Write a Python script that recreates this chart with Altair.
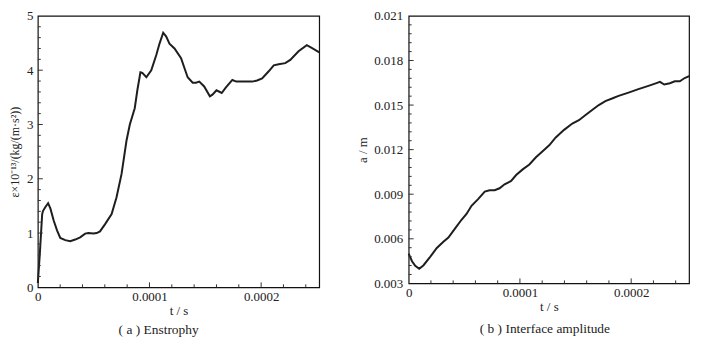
import altair as alt
import pandas as pd

FONT = "Liberation Serif"
INK = "#1e1e1e"

# ---------- panel (a): enstrophy ----------
t_a = [0.0, 0.018, 0.039, 0.047, 0.068, 0.092, 0.113, 0.142, 0.172, 0.201,
       0.246, 0.290, 0.335, 0.379, 0.424, 0.453, 0.498, 0.527, 0.557, 0.601,
       0.661, 0.705, 0.750, 0.794, 0.824, 0.868, 0.892, 0.919, 0.936, 0.972,
       1.016, 1.061, 1.090, 1.123, 1.150, 1.179, 1.224, 1.283, 1.313, 1.342,
       1.387, 1.416, 1.446, 1.490, 1.541, 1.564, 1.600, 1.647, 1.683, 1.742,
       1.778, 1.831, 1.920, 1.964, 2.009, 2.068, 2.113, 2.157, 2.216, 2.261,
       2.335, 2.409, 2.453, 2.521]  # units of 1e-4 s
e_a = [0.08, 0.62, 1.35, 1.41, 1.48, 1.55, 1.45, 1.23, 1.05, 0.91,
       0.87, 0.85, 0.88, 0.92, 0.99, 1.00, 0.99, 1.00, 1.03, 1.16,
       1.35, 1.66, 2.09, 2.70, 3.00, 3.30, 3.64, 3.96, 3.95, 3.87,
       4.00, 4.28, 4.49, 4.69, 4.62, 4.49, 4.40, 4.22, 4.04, 3.87,
       3.77, 3.77, 3.79, 3.70, 3.52, 3.55, 3.63, 3.58, 3.68, 3.82,
       3.79, 3.79, 3.79, 3.81, 3.85, 3.98, 4.09, 4.11, 4.13, 4.19,
       4.35, 4.46, 4.41, 4.33]

# ---------- panel (b): interface amplitude ----------
t_b = [0.0, 0.030, 0.059, 0.095, 0.134, 0.193, 0.253, 0.312, 0.357, 0.416,
       0.475, 0.520, 0.565, 0.624, 0.684, 0.728, 0.773, 0.817, 0.862, 0.921,
       0.966, 1.025, 1.085, 1.144, 1.204, 1.263, 1.322, 1.397, 1.471, 1.530,
       1.590, 1.649, 1.709, 1.768, 1.828, 1.887, 1.976, 2.065, 2.155, 2.214,
       2.259, 2.297, 2.348, 2.392, 2.437, 2.481, 2.526]  # units of 1e-4 s
a_b = [0.00500, 0.00449, 0.00418, 0.00398, 0.00422, 0.00478, 0.00538, 0.00580, 0.00608, 0.00668,
       0.00728, 0.00767, 0.00822, 0.00867, 0.00918, 0.00927, 0.00927, 0.00940, 0.00967, 0.00989,
       0.01029, 0.01067, 0.01100, 0.01149, 0.01189, 0.01229, 0.01282, 0.01333, 0.01376, 0.01398,
       0.01433, 0.01467, 0.01500, 0.01527, 0.01544, 0.01562, 0.01584, 0.01607, 0.01629, 0.01644,
       0.01656, 0.01638, 0.01647, 0.01660, 0.01660, 0.01682, 0.01696]

# ---------- axis ticks / labels ----------
x_domain = [0, 0.000252]
x_labels = [0, 0.0001, 0.0002]
x_major = [0.0001, 0.0002]
x_minor = [0.00002, 0.00004, 0.00006, 0.00008, 0.00012, 0.00014, 0.00016,
           0.00018, 0.00022, 0.00024]

ya_domain = [0, 5]
ya_labels = [0, 1, 2, 3, 4, 5]
ya_major = [1, 2, 3, 4]
ya_minor = [0.2, 0.4, 0.6, 0.8, 1.2, 1.4, 1.6, 1.8, 2.2, 2.4, 2.6, 2.8,
            3.2, 3.4, 3.6, 3.8, 4.2, 4.4, 4.6, 4.8]

yb_domain = [0.003, 0.021]
yb_labels = [0.003, 0.006, 0.009, 0.012, 0.015, 0.018, 0.021]
yb_major = [0.006, 0.009, 0.012, 0.015, 0.018]
yb_minor = [0.0036, 0.0042, 0.0048, 0.0054, 0.0066, 0.0072, 0.0078, 0.0084,
            0.0096, 0.0102, 0.0108, 0.0114, 0.0126, 0.0132, 0.0138, 0.0144,
            0.0156, 0.0162, 0.0168, 0.0174, 0.0186, 0.0192, 0.0198, 0.0204]


def panel(t, v, width, height, ydomain, ylabels, ymajor, yminor, yfmt,
          ytitle, ytitle_size, ylabel_pad, ytitle_pad, caption, cap_dx, cap_offset):
    df = pd.DataFrame({"t": [x * 1e-4 for x in t], "v": v})
    xs = alt.Scale(domain=x_domain, nice=False, zero=False)
    ys = alt.Scale(domain=ydomain, nice=False, zero=False)
    xaxis = alt.Axis(values=x_labels, format=".4~f", title="t / s",
                     ticks=False, domain=False, grid=False, labelPadding=3,
                     titlePadding=1, labelFlush=False)
    yaxis = alt.Axis(values=ylabels, format=yfmt, title=ytitle,
                     titleFontSize=ytitle_size,
                     ticks=False, domain=False, grid=False, labelPadding=ylabel_pad,
                     titlePadding=ytitle_pad, labelFlush=False)
    line = alt.Chart(df).mark_line(color=INK, strokeWidth=2).encode(
        x=alt.X("t:Q", scale=xs, axis=xaxis),
        y=alt.Y("v:Q", scale=ys, axis=yaxis),
    )

    def xt(vals, size):
        return alt.Chart(pd.DataFrame({"p": vals})).mark_rule(
            color="#333", strokeWidth=1).encode(
            x=alt.X("p:Q", scale=xs, axis=xaxis),
            y=alt.value(height), y2=alt.value(height - size))

    def yt(vals, size):
        return alt.Chart(pd.DataFrame({"p": vals})).mark_rule(
            color="#333", strokeWidth=1).encode(
            y=alt.Y("p:Q", scale=ys, axis=yaxis),
            x=alt.value(0), x2=alt.value(size))

    return alt.layer(
        line, xt(x_major, 5), xt(x_minor, 3), yt(ymajor, 5), yt(yminor, 3)
    ).properties(
        width=width, height=height,
        title=alt.TitleParams(caption, orient="bottom", anchor="middle",
                              dx=cap_dx, offset=cap_offset, font=FONT,
                              fontSize=13.5, fontWeight="normal", color="#222"),
    )


left = panel(t_a, e_a, 283, 273, ya_domain, ya_labels, ya_major, ya_minor,
             "d", "ε×10⁻¹³/(kg/(m·s²))", 12, 5, 4.5, "( a )  Enstrophy", -20, 6)
right = panel(t_b, a_b, 282, 269, yb_domain, yb_labels, yb_major, yb_minor,
              ".3f", "a / m", 13, 6, 4.5, "( b )  Interface amplitude", -4, 9)

chart = alt.hconcat(left, right, spacing=31, padding=0).configure_view(
    stroke="#111", strokeWidth=1.2
).configure_axis(
    labelFont=FONT, labelFontSize=13, labelColor="#222",
    titleFont=FONT, titleFontSize=13, titleColor="#222",
    titleFontWeight="normal",
)

chart.save("out.html", embed_options={"renderer": "svg", "actions": False})
